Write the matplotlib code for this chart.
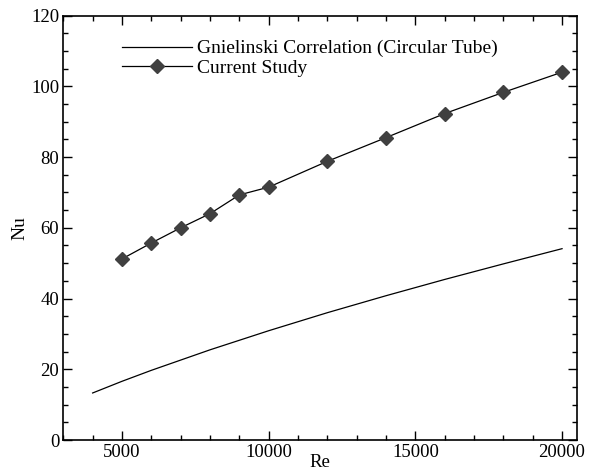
import matplotlib
matplotlib.use('Agg')
import matplotlib.pyplot as plt
from matplotlib.ticker import MultipleLocator

plt.rcParams['font.family'] = ['Liberation Serif', 'DejaVu Serif']

# Gnielinski correlation (circular tube)
re_gn = [4000, 5000, 6000, 8000, 10000, 12000, 14000, 16000, 18000, 20000]
nu_gn = [13.3, 16.6, 19.7, 25.5, 30.9, 36.0, 40.8, 45.4, 49.8, 54.1]

# current study
re_cs = [5000, 6000, 7000, 8000, 9000, 10000, 12000, 14000, 16000, 18000, 20000]
nu_cs = [51.2, 55.7, 60.0, 64.0, 69.3, 71.5, 78.8, 85.5, 92.3, 98.3, 104.0]

fig = plt.figure(figsize=(5.9, 4.7), dpi=100)
ax = fig.add_axes([0.1073, 0.0638, 0.8702, 0.903])

ax.plot(re_gn, nu_gn, color='black', lw=0.9, label='Gnielinski Correlation (Circular Tube)')
ax.plot(re_cs, nu_cs, color='black', lw=0.9, marker='D', markersize=7.5,
        markerfacecolor='#404040', markeredgecolor='#404040', label='Current Study')

ax.set_xlim(3000, 20500)
ax.set_ylim(0, 120)
ax.xaxis.set_major_locator(MultipleLocator(5000))
ax.xaxis.set_minor_locator(MultipleLocator(1000))
ax.yaxis.set_major_locator(MultipleLocator(20))
ax.yaxis.set_minor_locator(MultipleLocator(5))
ax.tick_params(which='both', direction='in', top=True, right=True, labelsize=13.5)
ax.tick_params(which='major', length=6.5, width=1, pad=3)
ax.tick_params(which='minor', length=3.6, width=1)
for s in ax.spines.values():
    s.set_linewidth(1.2)

ax.set_xlabel('Re', fontsize=13.5, labelpad=-5)
ax.set_ylabel('Nu', fontsize=14, labelpad=2)

ax.legend(loc='upper left', bbox_to_anchor=(0.114, 0.943), frameon=False, fontsize=14,
          handlelength=3.6, handletextpad=0.26, labelspacing=0.1,
          borderaxespad=0, borderpad=0)

fig.savefig('out.png', dpi=100)
